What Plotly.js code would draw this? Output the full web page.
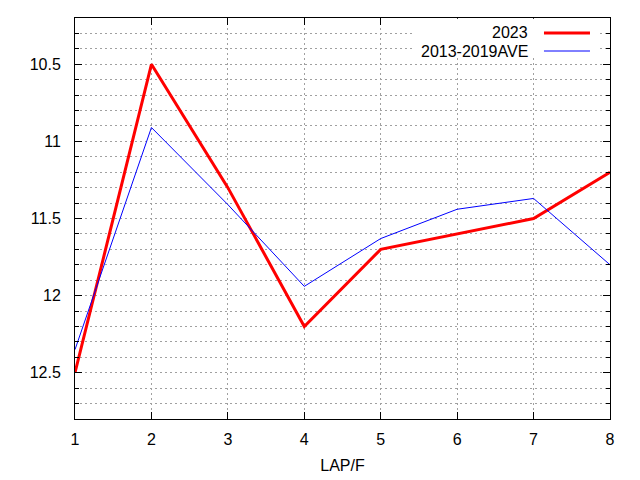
<!DOCTYPE html>
<html>
<head>
<meta charset="utf-8">
<script src="https://cdn.plot.ly/plotly-3.0.1.min.js"></script>
<style>html,body{margin:0;padding:0;background:#fff;}#chart{width:640px;height:480px;}</style>
</head>
<body>
<div id="chart"></div>
<script>
const laps = [1, 2, 3, 4, 5, 6, 7, 8];
const series2023 = [12.5, 10.5, 11.3, 12.2, 11.7, 11.6, 11.5, 11.2];
const seriesAve = [12.35, 10.91, 11.41, 11.94, 11.63, 11.44, 11.37, 11.8];
const seriesNames = ['2023', '2013-2019AVE'];
const seriesColors = ['#ff0000', '#0000ff'];
const seriesWidths = [3, 1];
const yTickVals = [10.5, 11, 11.5, 12, 12.5];
const yTickText = ['10.5', '11', '11.5', '12', '12.5'];

const font = {family: 'Liberation Sans, Arial, sans-serif', size: 16, color: '#000'};
const gridStyle = {showgrid: true, gridcolor: '#a0a0a0', gridwidth: 1, griddash: '2px,3px'};

const traces = [series2023, seriesAve].map((vals, i) => ({
  x: laps, y: vals, type: 'scatter', mode: 'lines', name: seriesNames[i],
  line: {color: seriesColors[i], width: seriesWidths[i]}, showlegend: false
}));

// Legend drawn gnuplot-style: text right-aligned, sample line on the right
const legY = [0.9626, 0.9177];
const annotations = seriesNames.map((n, i) => ({
  xref: 'paper', yref: 'paper', x: 0.8505, y: legY[i], xanchor: 'right', yanchor: 'middle',
  text: n, showarrow: false, font: font
}));
const shapes = [{type: 'rect', xref: 'paper', yref: 'paper', x0: 0.632, x1: 0.9776, y0: 0.9027, y1: 0.998,
  fillcolor: '#fff', line: {width: 0}, layer: 'above'}];
seriesNames.forEach((n, i) => shapes.push({
  type: 'line', xref: 'paper', yref: 'paper', x0: 0.8766, x1: 0.9626, y0: legY[i], y1: legY[i],
  line: {color: seriesColors[i], width: seriesWidths[i]}, layer: 'above'
}));

const layout = {
  width: 640, height: 480,
  margin: {l: 75, r: 30, t: 18, b: 61},
  paper_bgcolor: '#fff', plot_bgcolor: '#fff',
  font: font,
  xaxis: Object.assign({
    range: [1, 8], dtick: 1, tick0: 1, ticks: 'inside', ticklen: 7, tickcolor: '#000',
    showline: true, linecolor: '#000', linewidth: 1, mirror: 'ticks', zeroline: false,
    ticklabelstandoff: 6,
    title: {text: 'LAP/F', font: font, standoff: 12}, tickfont: font
  }, gridStyle),
  yaxis: Object.assign({
    range: [12.8, 10.2], tickvals: yTickVals, ticktext: yTickText,
    ticks: 'inside', ticklen: 7, tickcolor: '#000',
    showline: true, linecolor: '#000', linewidth: 1, mirror: 'ticks', zeroline: false,
    tickfont: font, ticklabelstandoff: 10,
    minor: {dtick: 0.1, tick0: 10, ticks: 'inside', ticklen: 4, tickcolor: '#000',
      showgrid: true, gridcolor: '#a0a0a0', gridwidth: 1, griddash: '2px,3px'}
  }, gridStyle),
  annotations: annotations,
  shapes: shapes
};

Plotly.newPlot('chart', traces, layout, {staticPlot: true, displayModeBar: false});
</script>
</body>
</html>
